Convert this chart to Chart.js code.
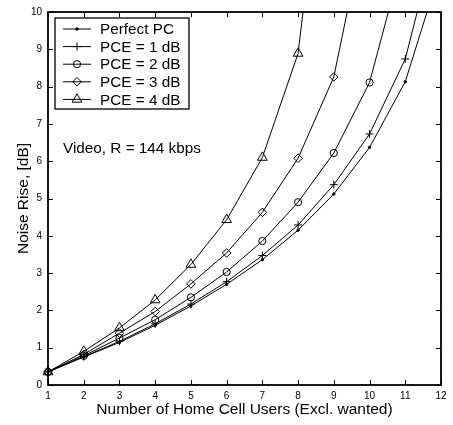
<!DOCTYPE html>
<html>
<head>
<meta charset="utf-8">
<script src="https://cdn.jsdelivr.net/npm/chart.js"></script>
<style>
  body { margin: 0; background: #fff; }
  canvas { display: block; }
</style>
</head>
<body>
<canvas id="noiseRise" width="453" height="425"></canvas>
<script>
// number of home cell users (excl. wanted)
const users = ['1', '2', '3', '4', '5', '6', '7', '8', '9', '10', '11', '12'];
const yTicks = [0, 1, 2, 3, 4, 5, 6, 7, 8, 9, 10];

// noise rise in dB (last points leave the top of the axes)
const perfectPC = [0.35, 0.75, 1.14, 1.60, 2.12, 2.70, 3.36, 4.15, 5.12, 6.37, 8.13, 11.2];
const pce1 = [0.35, 0.76, 1.17, 1.64, 2.17, 2.77, 3.47, 4.29, 5.37, 6.73, 8.74, 12.5];
const pce2 = [0.35, 0.78, 1.26, 1.75, 2.35, 3.03, 3.86, 4.90, 6.22, 8.11, 11.7, null];
const pce3 = [0.35, 0.82, 1.39, 1.97, 2.71, 3.54, 4.63, 6.08, 8.26, 12.9, null, null];
const pce4 = [0.35, 0.90, 1.53, 2.28, 3.23, 4.43, 6.10, 8.89, 17.0, null, null, null];

const FONT = '"Liberation Sans", Arial, Helvetica, sans-serif';

function series(label, data, style, radius, fill) {
  return {
    label: label,
    data: data,
    borderColor: '#000',
    borderWidth: 1,
    tension: 0,
    pointStyle: style,
    pointRadius: radius,
    pointBorderWidth: 1,
    pointBorderColor: '#000',
    pointBackgroundColor: fill || 'rgba(0,0,0,0)'
  };
}

const datasets = [
  series('Perfect PC', perfectPC, 'circle', 1.2, '#000'),
  series('PCE = 1 dB', pce1, 'cross', 4),
  series('PCE = 2 dB', pce2, 'circle', 3.6),
  series('PCE = 3 dB', pce3, 'rectRot', 4.3),
  series('PCE = 4 dB', pce4, 'triangle', 5.6)
];

// matlab style box, inward ticks, legend and the text note
const decorations = {
  id: 'decorations',
  afterDatasetsDraw(chart) {
    const ctx = chart.ctx;
    const a = chart.chartArea;
    const xs = chart.scales.x, ys = chart.scales.y;
    const tl = 5;
    ctx.save();
    ctx.strokeStyle = '#000';
    ctx.lineWidth = 1;
    ctx.beginPath();
    users.forEach((u, i) => {
      const px = Math.round(xs.getPixelForValue(i)) + 0.5;
      ctx.moveTo(px, a.bottom); ctx.lineTo(px, a.bottom - tl);
      ctx.moveTo(px, a.top); ctx.lineTo(px, a.top + tl);
    });
    yTicks.forEach(v => {
      const py = Math.round(ys.getPixelForValue(v)) + 0.5;
      ctx.moveTo(a.left, py); ctx.lineTo(a.left + tl, py);
      ctx.moveTo(a.right, py); ctx.lineTo(a.right - tl, py);
    });
    ctx.stroke();
    ctx.lineWidth = 1.8;
    ctx.strokeRect(a.left, a.top, a.right - a.left, a.bottom - a.top);

    // legend
    const lx = a.left + 7, ly = a.top + 6, lw = 134, lh = 91;
    ctx.fillStyle = '#fff';
    ctx.fillRect(lx, ly, lw, lh);
    ctx.lineWidth = 1.3;
    ctx.strokeRect(lx, ly, lw, lh);
    ctx.font = '15.3px ' + FONT;
    ctx.textBaseline = 'middle';
    ctx.textAlign = 'left';
    datasets.forEach((d, i) => {
      const cy = ly + 11 + i * 17.6;
      ctx.strokeStyle = '#000';
      ctx.lineWidth = 1;
      ctx.beginPath();
      ctx.moveTo(lx + 8, cy); ctx.lineTo(lx + 36, cy);
      ctx.stroke();
      ctx.fillStyle = d.pointBackgroundColor;
      Chart.helpers.drawPoint(ctx, {
        pointStyle: d.pointStyle, radius: d.pointRadius, rotation: 0, borderWidth: 1
      }, lx + 22, cy);
      ctx.fillStyle = '#000';
      ctx.fillText(d.label, lx + 45, cy + 1);
    });

    ctx.fillStyle = '#000';
    ctx.font = '15.3px ' + FONT;
    ctx.textBaseline = 'alphabetic';
    ctx.fillText('Video, R = 144 kbps', a.left + 15, 153);

    // axis titles
    ctx.font = '15.5px ' + FONT;
    ctx.textAlign = 'center';
    ctx.fillText('Number of Home Cell Users (Excl. wanted)', (a.left + a.right) / 2, 414);
    ctx.translate(28, (a.top + a.bottom) / 2);
    ctx.rotate(-Math.PI / 2);
    ctx.fillText('Noise Rise, [dB]', 0, 0);
    ctx.restore();
  }
};

const ctx = document.getElementById('noiseRise').getContext('2d');
new Chart(ctx, {
  type: 'line',
  data: { labels: users, datasets: datasets },
  options: {
    responsive: false,
    animation: false,
    layout: { padding: { top: 2, right: 12, left: 0, bottom: 0 } },
    plugins: { legend: { display: false }, tooltip: { enabled: false } },
    scales: {
      x: {
        offset: false,
        grid: { display: false, drawTicks: false },
        border: { display: false },
        ticks: { color: '#000', font: { family: FONT, size: 10 }, padding: 5, maxRotation: 0, autoSkip: false },
        afterFit: s => { s.height = 40; }
      },
      y: {
        min: 0,
        max: 10,
        grid: { display: false, drawTicks: false },
        border: { display: false },
        ticks: { stepSize: 1, color: '#000', font: { family: FONT, size: 10 }, padding: 6 },
        afterFit: s => { s.width = 48; }
      }
    }
  },
  plugins: [decorations]
});
</script>
</body>
</html>
